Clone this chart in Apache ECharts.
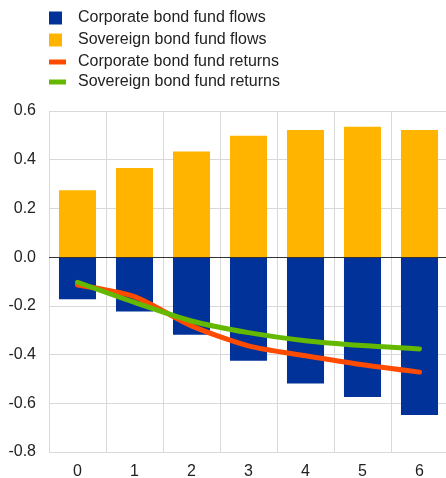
<!DOCTYPE html>
<html>
<head>
<meta charset="utf-8">
<script src="https://cdn.jsdelivr.net/npm/echarts@6/dist/echarts.min.js"></script>
<style>
  html, body { margin: 0; padding: 0; background: #fff; }
  #chart { width: 446px; height: 478px; }
</style>
</head>
<body>
<div id="chart"></div>
<script>
// Horizon (periods) on the x axis
const periods = ['0', '1', '2', '3', '4', '5', '6'];

// Fund flows (bars)
const corporateFlows = [-0.173, -0.223, -0.319, -0.425, -0.519, -0.574, -0.648];
const sovereignFlows = [0.275, 0.366, 0.434, 0.498, 0.522, 0.535, 0.522];

// Fund returns (lines)
const corporateReturns = [-0.114, -0.162, -0.282, -0.364, -0.405, -0.442, -0.472];
const sovereignReturns = [-0.103, -0.186, -0.262, -0.310, -0.343, -0.363, -0.377];

// Y axis ticks
const yTicks = { min: -0.8, max: 0.6, step: 0.2 };

const names = {
  corpFlows: 'Corporate bond fund flows',
  sovFlows: 'Sovereign bond fund flows',
  corpRet: 'Corporate bond fund returns',
  sovRet: 'Sovereign bond fund returns'
};

const colors = {
  blue: '#003299',
  yellow: '#ffb400',
  orange: '#ff4b00',
  green: '#65b800',
  grid: '#d9d9d9',
  text: '#222'
};

const font = { fontFamily: '"Liberation Sans", Arial, sans-serif', fontSize: 16, color: colors.text };

const chart = echarts.init(document.getElementById('chart'), null, { renderer: 'canvas' });

chart.setOption({
  animation: false,
  textStyle: font,
  legend: [
    {
      orient: 'vertical',
      left: 44,
      top: 4,
      itemWidth: 13,
      itemHeight: 13,
      itemGap: 4,
      icon: 'rect',
      selectedMode: false,
      textStyle: Object.assign({}, font, { padding: [0, 0, 0, 11], lineHeight: 18 }),
      data: [names.corpFlows, names.sovFlows]
    },
    {
      orient: 'vertical',
      left: 44,
      top: 48,
      itemWidth: 17,
      itemHeight: 5,
      itemGap: 2,
      icon: 'rect',
      selectedMode: false,
      textStyle: Object.assign({}, font, { padding: [0, 0, 0, 7], lineHeight: 18 }),
      data: [names.corpRet, names.sovRet]
    }
  ],
  grid: { left: 49, right: -2, top: 111, bottom: 26, containLabel: false, outerBoundsMode: 'none' },
  xAxis: {
    type: 'category',
    data: periods,
    boundaryGap: true,
    axisLine: { show: false },
    axisTick: { show: false },
    axisLabel: Object.assign({}, font, { margin: 12 }),
    splitLine: { show: true, lineStyle: { color: colors.grid, width: 1 } }
  },
  yAxis: {
    type: 'value',
    min: yTicks.min,
    max: yTicks.max,
    interval: yTicks.step,
    axisLine: { show: false },
    axisTick: { show: false },
    axisLabel: Object.assign({}, font, {
      margin: 13,
      formatter: v => v.toFixed(1)
    }),
    splitLine: { show: true, lineStyle: { color: colors.grid, width: 1 } }
  },
  series: [
    {
      name: names.corpFlows,
      type: 'bar',
      stack: 'flows',
      data: corporateFlows,
      barCategoryGap: '35%',
      itemStyle: { color: colors.blue },
      markLine: {
        silent: true,
        symbol: 'none',
        label: { show: false },
        lineStyle: { color: '#333', width: 1, type: 'solid' },
        data: [{ yAxis: 0 }]
      }
    },
    {
      name: names.sovFlows,
      type: 'bar',
      stack: 'flows',
      data: sovereignFlows,
      barCategoryGap: '35%',
      itemStyle: { color: colors.yellow }
    },
    {
      name: names.corpRet,
      type: 'line',
      data: corporateReturns,
      smooth: 0.25,
      symbol: 'none',
      lineStyle: { color: colors.orange, width: 5, cap: 'round', join: 'round' },
      itemStyle: { color: colors.orange },
      z: 3
    },
    {
      name: names.sovRet,
      type: 'line',
      data: sovereignReturns,
      smooth: 0.25,
      symbol: 'none',
      lineStyle: { color: colors.green, width: 5, cap: 'round', join: 'round' },
      itemStyle: { color: colors.green },
      z: 4
    }
  ]
});
</script>
</body>
</html>
